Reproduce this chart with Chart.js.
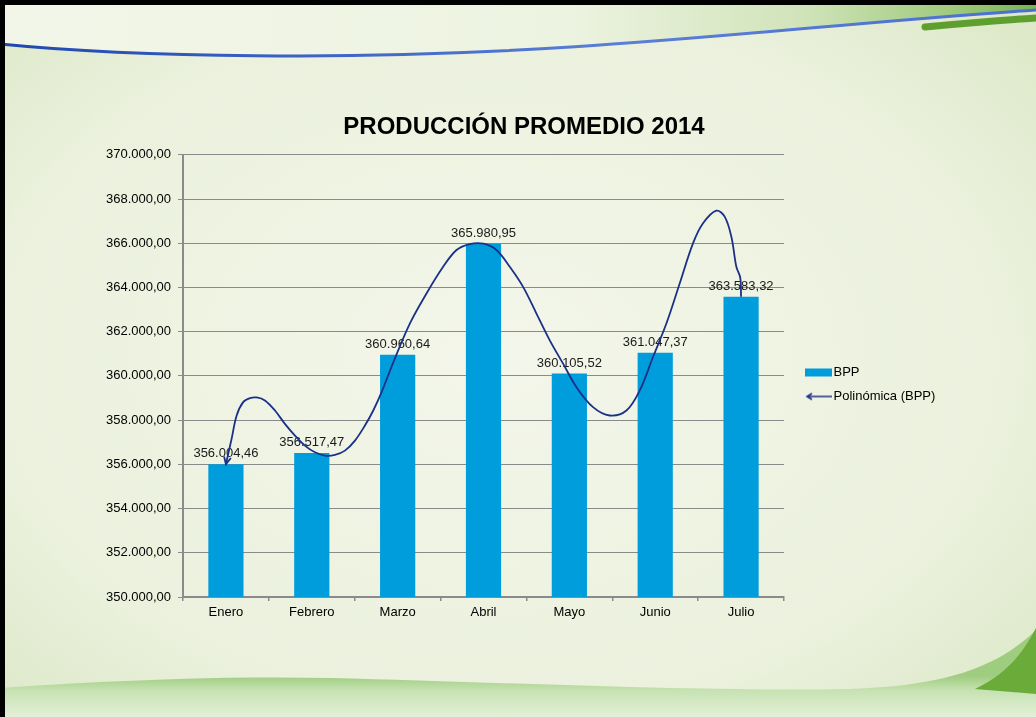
<!DOCTYPE html>
<html lang="es">
<head>
<meta charset="utf-8">
<title>Producción promedio 2014</title>
<script src="https://cdn.jsdelivr.net/npm/chart.js@4.4.1/dist/chart.umd.min.js"></script>
<style>
  html, body { margin: 0; padding: 0; background: #eef2e1; }
  #slide { position: relative; width: 1036px; height: 717px; overflow: hidden; }
  #fondo, #grafico { position: absolute; left: 0; top: 0; }
</style>
</head>
<body>
<div id="slide">
  <svg id="fondo" width="1036" height="717" viewBox="0 0 1036 717">
    <defs>
      <radialGradient id="gBase" cx="0.48" cy="0.5" r="0.7">
        <stop offset="0" stop-color="#f3f6ea"/>
        <stop offset="0.7" stop-color="#ebf1dd"/>
        <stop offset="1" stop-color="#dce8c7"/>
      </radialGradient>
      <linearGradient id="gArriba" x1="0" y1="0" x2="1" y2="0">
        <stop offset="0" stop-color="#f2f6e8"/>
        <stop offset="0.55" stop-color="#edf3e1"/>
        <stop offset="0.78" stop-color="#cfe3b8"/>
        <stop offset="0.92" stop-color="#9fca7c"/>
        <stop offset="1" stop-color="#78b552"/>
      </linearGradient>
      <linearGradient id="gAzul" x1="0" y1="0" x2="1" y2="0">
        <stop offset="0" stop-color="#1f47b0"/>
        <stop offset="0.6" stop-color="#5b7fd6"/>
        <stop offset="1" stop-color="#4a6fd2"/>
      </linearGradient>
      <linearGradient id="gAbajo" gradientUnits="userSpaceOnUse" x1="0" y1="676" x2="0" y2="717">
        <stop offset="0" stop-color="#9fcd80"/>
        <stop offset="0.35" stop-color="#c6e2b2"/>
        <stop offset="1" stop-color="#e3f0d8"/>
      </linearGradient>
    </defs>
    <rect width="1036" height="717" fill="url(#gBase)"/>
    <path d="M0,0 H1036 V10 C800,25 600,55 300,56 C150,56 60,50 0,44 Z" fill="url(#gArriba)"/>
    <path d="M0,44 C60,50 150,56 300,56 C600,55 800,25 1036,10" fill="none" stroke="url(#gAzul)" stroke-width="3"/>
    <path d="M925,27 C975,22 1005,20 1036,18" fill="none" stroke="#5e9f30" stroke-width="7" stroke-linecap="round"/>
    <path d="M0,688 C120,680 230,676 330,678 C500,682 700,692 850,689 C950,686 1000,665 1036,630 V717 H0 Z" fill="url(#gAbajo)"/>
    <path d="M975,689 C1005,675 1022,655 1036,628 V694 Z" fill="#6aab3a"/>
    <rect x="0" y="0" width="1036" height="5" fill="#000"/>
    <rect x="0" y="0" width="5" height="717" fill="#000"/>
  </svg>
  <canvas id="grafico" width="1036" height="717"></canvas>
</div>
<script>
const meses = ['Enero', 'Febrero', 'Marzo', 'Abril', 'Mayo', 'Junio', 'Julio'];
const bpp = [356004.46, 356517.47, 360960.64, 365980.95, 360105.52, 361047.37, 363583.32];

const ejeMin = 350000;
const ejeMax = 370000;
const ejePaso = 2000;

// linea de tendencia polinomica (posicion en meses, valor)
const tendX = [0, 0.066, 0.125, 0.201, 0.28, 0.358, 0.454, 0.571, 0.687, 0.804, 0.92, 1.037, 1.153,
  1.27, 1.386, 1.503, 1.619, 1.716, 1.813, 1.948, 2.142, 2.336, 2.53, 2.686, 2.84, 3, 3.151, 3.306,
  3.461, 3.617, 3.772, 3.927, 4.083, 4.276, 4.47, 4.665, 4.82, 4.974, 5.13, 5.285, 5.44, 5.557,
  5.712, 5.809, 5.887, 5.945, 5.99, 6];
const tendY = [356004, 357152, 358209, 358812, 358993, 359025, 358889, 358435, 357832, 357302, 356848, 356544, 356395,
  356426, 356621, 357075, 357755, 358435, 359265, 360600, 362367, 363728, 364934, 365692, 365964, 365981, 365692, 364934,
  364027, 362821, 361610, 360553, 359492, 358585, 358209, 358435, 359342, 360853, 362367, 364181, 365995, 366902,
  367474, 367202, 366295, 364934, 364450, 363583];

const AZUL = '#009ddc';
const LINEA = '#1a3187';
const GRIS = '#8a8a8a';
const FUENTE = 'Arial, "Liberation Sans", sans-serif';

function formatoES(v) {
  const partes = Number(v).toFixed(2).split('.');
  return partes[0].replace(/\B(?=(\d{3})+(?!\d))/g, '.') + ',' + partes[1];
}

function iconoBarra() {
  const c = document.createElement('canvas');
  c.width = 42; c.height = 10;
  const g = c.getContext('2d');
  g.fillStyle = AZUL;
  g.fillRect(15, 1, 27, 8);
  return c;
}

function iconoFlecha() {
  const c = document.createElement('canvas');
  c.width = 42; c.height = 10;
  const g = c.getContext('2d');
  g.strokeStyle = LINEA;
  g.lineWidth = 1.5;
  g.beginPath(); g.moveTo(17, 5); g.lineTo(42, 5); g.stroke();
  g.beginPath(); g.moveTo(22, 2); g.lineTo(17, 5); g.lineTo(22, 8); g.stroke();
  return c;
}

const etiquetasBarras = {
  id: 'etiquetasBarras',
  afterDatasetDraw(chart, args) {
    if (args.index !== 0) return;
    const ctx = chart.ctx;
    ctx.save();
    ctx.font = '13px ' + FUENTE;
    ctx.fillStyle = '#1a1a1a';
    ctx.textAlign = 'center';
    ctx.textBaseline = 'alphabetic';
    args.meta.data.forEach((bar, i) => {
      ctx.fillText(formatoES(bpp[i]), bar.x, bar.y - 7);
    });
    ctx.restore();
  }
};

const flechaInicio = {
  id: 'flechaInicio',
  afterDatasetsDraw(chart) {
    const pts = chart.getDatasetMeta(1).data;
    if (pts.length < 2) return;
    const p0 = pts[0], p1 = pts[1];
    const ang = Math.atan2(p0.y - p1.y, p0.x - p1.x);
    const ctx = chart.ctx;
    ctx.save();
    ctx.strokeStyle = LINEA;
    ctx.lineWidth = 1.8;
    ctx.beginPath();
    ctx.moveTo(p0.x - 8 * Math.cos(ang - 0.45), p0.y - 8 * Math.sin(ang - 0.45));
    ctx.lineTo(p0.x, p0.y);
    ctx.lineTo(p0.x - 8 * Math.cos(ang + 0.45), p0.y - 8 * Math.sin(ang + 0.45));
    ctx.stroke();
    ctx.restore();
  }
};

new Chart(document.getElementById('grafico'), {
  type: 'bar',
  data: {
    labels: meses,
    datasets: [
      {
        label: 'BPP',
        data: bpp,
        backgroundColor: AZUL,
        barPercentage: 0.41,
        categoryPercentage: 1,
        grouped: false,
        pointStyle: iconoBarra(),
        order: 1
      },
      {
        type: 'line',
        label: 'Polinómica (BPP)',
        data: tendX.map((x, i) => ({ x: x, y: tendY[i] })),
        xAxisID: 'x2',
        borderColor: LINEA,
        borderWidth: 1.8,
        pointRadius: 0,
        tension: 0.35,
        fill: false,
        pointStyle: iconoFlecha(),
        order: 0
      }
    ]
  },
  options: {
    responsive: false,
    animation: false,
    layout: { padding: { left: 104, right: 92, top: 58, bottom: 6 } },
    scales: {
      x: {
        grid: { offset: true, drawOnChartArea: false, tickLength: 4, color: GRIS, lineWidth: 1.5 },
        border: { color: GRIS, width: 2 },
        ticks: { padding: 4, color: '#000', font: { family: FUENTE, size: 13 } },
        afterFit(s) { s.height = 114; }
      },
      x2: { type: 'linear', display: false, offset: false, min: -0.5, max: 6.5 },
      y: {
        min: ejeMin,
        max: ejeMax,
        ticks: {
          stepSize: ejePaso,
          padding: 7,
          color: '#000',
          font: { family: FUENTE, size: 13 },
          callback: v => formatoES(v)
        },
        grid: { color: GRIS, lineWidth: 1, tickLength: 5 },
        border: { color: GRIS, width: 2 },
        afterFit(s) { s.width = 79; }
      }
    },
    plugins: {
      title: {
        display: true,
        text: 'PRODUCCIÓN PROMEDIO 2014',
        color: '#000',
        font: { family: FUENTE, size: 24, weight: 'bold' },
        padding: { top: 55, bottom: 13 }
      },
      legend: {
        position: 'right',
        maxWidth: 160,
        labels: {
          usePointStyle: true,
          pointStyleWidth: 32,
          padding: 11,
          color: '#000',
          font: { family: FUENTE, size: 13 },
          sort: (a, b) => a.datasetIndex - b.datasetIndex
        }
      },
      tooltip: { enabled: false }
    }
  },
  plugins: [etiquetasBarras, flechaInicio]
});
</script>
</body>
</html>
